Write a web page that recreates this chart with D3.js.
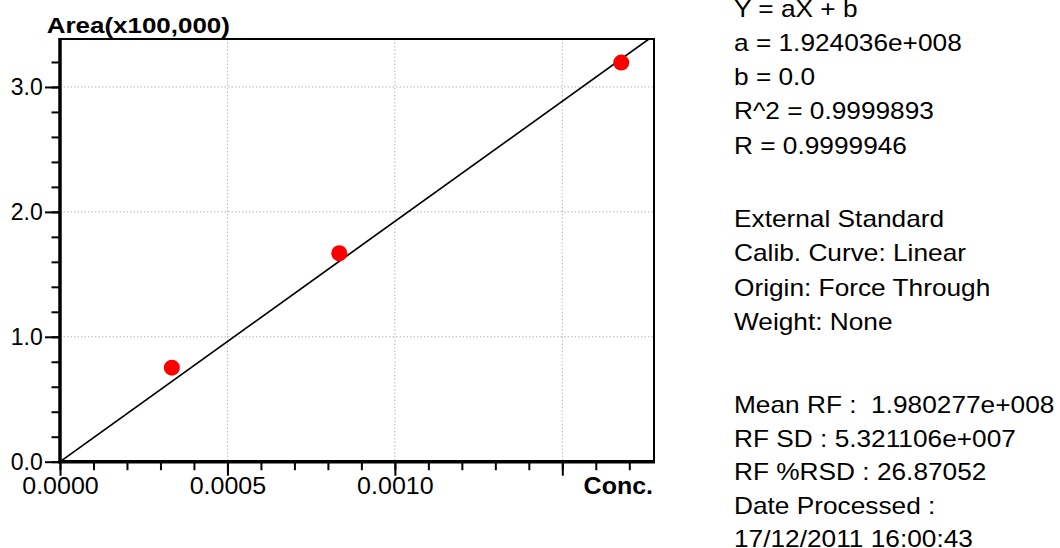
<!DOCTYPE html>
<html>
<head>
<meta charset="utf-8">
<script src="https://cdn.jsdelivr.net/npm/d3@7"></script>
<style>
  html, body { margin: 0; padding: 0; background: #fff; }
  svg { display: block; }
  text { font-family: "Liberation Sans", Arial, sans-serif; fill: #000; }
</style>
</head>
<body>
<svg id="chart" width="1060" height="548"></svg>
<script>
// ---- data ----
const conc = [0.000334, 0.000834, 0.001676];
const area = [0.753, 1.669, 3.195];           // x100,000
const slopeA = 1.924036e8;                     // Y = aX + b
const interceptB = 0.0;
const areaUnit = 100000;
const xMajorTicks = [0, 0.0005, 0.0010, 0.0015];
const xTickLabels = ["0.0000", "0.0005", "0.0010", ""];
const xMinorTicks = d3.range(0, 18).map(i => i / 10000);
const yMajorTicks = [0, 1, 2, 3];
const yTickLabels = ["0.0", "1.0", "2.0", "3.0"];
const yMinorTicks = d3.range(0, 17).map(i => i / 5);
const xDomain = [0, 0.0017738];
const yDomain = [0, 3.384];
const xTitle = "Conc.";
const yTitle = "Area(x100,000)";
const infoGroup1 = ["Y = aX + b", "a = 1.924036e+008", "b = 0.0", "R^2 = 0.9999893", "R = 0.9999946"];
const infoGroup2 = ["External Standard", "Calib. Curve: Linear", "Origin: Force Through", "Weight: None"];
const infoGroup3 = ["Mean RF :  1.980277e+008", "RF SD : 5.321106e+007", "RF %RSD : 26.87052",
                    "Date Processed :", "17/12/2011 16:00:43"];

// ---- layout ----
const L = 60, R = 654, T = 39, B = 461.7;
const svg = d3.select("#chart");
const x = d3.scaleLinear().domain(xDomain).range([L, R]);
const y = d3.scaleLinear().domain(yDomain).range([B, T]);

// grid
const grid = svg.append("g").attr("stroke", "#b8b8b8").attr("stroke-width", 1)
  .attr("stroke-dasharray", "1.5,2");
grid.selectAll("line.v").data(xMajorTicks.filter(d => d > 0)).join("line")
  .attr("class", "v").attr("x1", d => x(d)).attr("x2", d => x(d)).attr("y1", T).attr("y2", B);
grid.selectAll("line.h").data(yMajorTicks.filter(d => d > 0)).join("line")
  .attr("class", "h").attr("y1", d => y(d)).attr("y2", d => y(d)).attr("x1", L).attr("x2", R);

// regression line (clipped)
svg.append("clipPath").attr("id", "clip").append("rect")
  .attr("x", L).attr("y", T).attr("width", R - L).attr("height", B - T);
const fitX = [xDomain[0], xDomain[1]];
svg.append("path")
  .attr("clip-path", "url(#clip)")
  .attr("d", d3.line().x(d => x(d)).y(d => y((slopeA * d + interceptB) / areaUnit))(fitX))
  .attr("fill", "none").attr("stroke", "#000").attr("stroke-width", 1.7);

// points
svg.selectAll("circle.pt").data(conc).join("circle")
  .attr("class", "pt")
  .attr("cx", d => x(d)).attr("cy", (d, i) => y(area[i])).attr("r", 8)
  .attr("fill", "#ff0000");

// frame
svg.append("line").attr("x1", L).attr("x2", R + 1).attr("y1", T).attr("y2", T)
  .attr("stroke", "#000").attr("stroke-width", 2);
svg.append("line").attr("x1", R).attr("x2", R).attr("y1", T).attr("y2", B)
  .attr("stroke", "#000").attr("stroke-width", 2);

// x axis
const gxMinor = svg.append("g").attr("transform", `translate(0,${B})`)
  .call(d3.axisBottom(x).tickValues(xMinorTicks).tickSize(8.5).tickFormat(""));
const gxMajor = svg.append("g").attr("transform", `translate(0,${B})`)
  .call(d3.axisBottom(x).tickValues(xMajorTicks).tickSize(14)
    .tickFormat((d, i) => xTickLabels[i]));
[gxMinor, gxMajor].forEach(g => {
  g.select(".domain").remove();
  g.selectAll(".tick line").attr("stroke", "#000").attr("stroke-width", 2);
});
gxMajor.selectAll(".tick text")
  .attr("y", null).attr("dy", null)
  .attr("transform", "translate(0,32.6) scale(1.066,1)")
  .style("font-size", "23.5px");

// y axis
const gyMinor = svg.append("g").attr("transform", `translate(${L},0)`)
  .call(d3.axisLeft(y).tickValues(yMinorTicks).tickSize(8.5).tickFormat(""));
const gyMajor = svg.append("g").attr("transform", `translate(${L},0)`)
  .call(d3.axisLeft(y).tickValues(yMajorTicks).tickSize(15)
    .tickFormat((d, i) => yTickLabels[i]));
[gyMinor, gyMajor].forEach(g => {
  g.select(".domain").remove();
  g.selectAll(".tick line").attr("stroke", "#000").attr("stroke-width", 2);
});
gyMajor.selectAll(".tick text")
  .attr("x", -17.3).attr("y", 8).attr("dy", null)
  .attr("text-anchor", "end")
  .style("font-size", "23px");

// thick axis lines
svg.append("line").attr("x1", L).attr("x2", L).attr("y1", T - 1).attr("y2", B + 1.5)
  .attr("stroke", "#000").attr("stroke-width", 3.5);
svg.append("line").attr("x1", L - 1.5).attr("x2", R + 1).attr("y1", B).attr("y2", B)
  .attr("stroke", "#000").attr("stroke-width", 3.5);

// titles
svg.append("text").attr("transform", "translate(46.7,32.7) scale(1.154,1)")
  .style("font-size", "22.5px").style("font-weight", "bold")
  .text(yTitle);
svg.append("text").attr("transform", "translate(653,494.3) scale(1.063,1)")
  .attr("text-anchor", "end")
  .style("font-size", "23.5px").style("font-weight", "bold")
  .text(xTitle);

// info text: three blocks
const info = svg.append("g");
function block(lines, startY, lh) {
  lines.forEach((t, i) => {
    info.append("text").attr("transform", `translate(734,${startY + i * lh}) scale(1.142,1)`)
      .style("font-size", "23px")
      .style("white-space", "pre").text(t);
  });
}
block(infoGroup1, 16.5, 34.3);
block(infoGroup2, 227, 34.3);
block(infoGroup3, 413, 33.5);
</script>
</body>
</html>
